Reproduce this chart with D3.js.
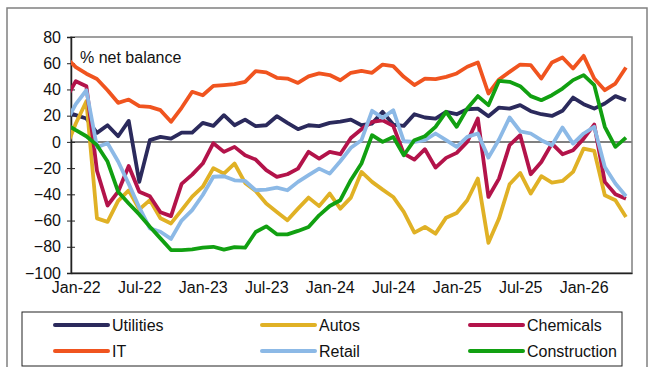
<!DOCTYPE html>
<html><head><meta charset="utf-8">
<script src="https://cdn.jsdelivr.net/npm/d3@7/dist/d3.min.js"></script>
<style>
body{margin:0;background:#fff;}
svg{display:block;font-family:"Liberation Sans",Arial,sans-serif;}
</style>
</head><body>
<svg id="chart" width="654" height="367"></svg>
<script>
// Monthly data, first value = Dec-21 (clipped at the left edge), last = May-26
const utilities = [23,20.4,17.8,6.9,12.7,4.3,16,-30.5,1.3,3.8,2.5,7.1,7.1,14.5,12.2,20.4,12.7,17,12,12.7,19.6,14.5,9.7,12.7,12,14.5,15.5,17,12.7,14,22.9,13.2,12.2,21.1,18.6,17.8,22.9,21.1,24.9,25.4,19.6,26.2,25.4,28,23.4,21.1,19.8,23.7,33.8,28.8,25.4,29.3,34.9,31.8];
const autos = [-6,14,31,-58.3,-61,-45,-37,-51.5,-44.4,-58.3,-62.2,-52,-41.8,-34.2,-20,-24.2,-16.5,-31.3,-37.4,-47,-53.4,-59.8,-50.9,-42.5,-49,-39.4,-50.9,-42.5,-22.9,-30.5,-36.4,-42,-53.4,-69.2,-64.9,-70,-57.8,-54.2,-44.5,-28,-77,-58.5,-32.3,-23.7,-39.4,-26.2,-31,-29.8,-22.9,-5.1,-6.9,-40.7,-44.5,-57.3];
const chemicals = [32,46.3,42.5,-22,-48.5,-38,-18.4,-38,-41.5,-53.7,-56.6,-32,-25,-16.5,-1,-7.6,-3.8,-10.2,-13.5,-21.6,-26.7,-24.7,-20.4,-7.6,-12.7,-7.6,-9.4,3,9.7,15.3,16.5,12.2,-8.9,-13.5,-5.6,-19.6,-12.2,-8.4,0,17.8,-42,-28,-2.5,5.1,-24.7,-15.3,-1.3,-9.4,-6.4,2.5,13.2,-30.5,-40,-43.3];
const it = [65,57,52,48,39.4,29.8,32.3,27.2,26.7,24.2,15.3,26,38.2,35.6,42.7,43.3,44,45.8,54,53,48.9,48.3,45,50,52.2,51,47,52.7,54.2,52.7,59,57.8,49.6,43.3,48.3,47.8,49.6,52.2,57.3,60.6,36.9,47.6,53.4,59,58.5,48.3,60.6,64.4,56,65.6,48.3,39.4,44.5,56.7];
const retail = [14,28.8,39.4,-4,-1,-15,-32,-50,-66,-68.5,-74,-60,-52,-40.5,-26.6,-26.2,-29.3,-29.8,-36.9,-36.4,-34.9,-36.9,-30.5,-25.4,-20.4,-24.2,-14.8,-4.5,1.3,23.7,18.3,24.2,0.5,0,1.3,6.4,1.3,-3.8,3.8,6.4,-12,1.8,18.6,8.1,6.4,1.3,-2.5,10.9,-1.3,6.4,11.5,-19.1,-31.8,-41.5];
const construction = [14,8.9,4.3,-2.5,-15,-38,-47,-55.3,-64.7,-73.6,-82.5,-82.5,-82,-80.7,-80,-82.2,-80.2,-80.7,-68.7,-64.4,-70.5,-70.5,-67.9,-64.9,-56,-48.9,-44.5,-29,-16.5,5.1,0,3.8,-10.2,1.3,4.3,11.5,22.9,11.5,25.4,34.9,28,46.6,45.8,42.5,34.9,31.8,35.6,40.7,47.1,50.9,43.3,11.5,-3.8,3.3];

const seriesNames = ["Utilities","Autos","Chemicals","IT","Retail","Construction"];
const seriesColors = ["#2b2a5c","#e0b125","#b3134a","#f0541f","#8cb9e6","#11a011"];
const seriesValues = [utilities,autos,chemicals,it,retail,construction];

const tickLabels = ["Jan-22","Jul-22","Jan-23","Jul-23","Jan-24","Jul-24","Jan-25","Jul-25","Jan-26"];
const tickIndex = [1,7,13,19,25,31,37,43,49];
const yTicks = [80,60,40,20,0,-20,-40,-60,-80,-100];

const svg = d3.select("#chart");
const L = 71, R = 632, T = 37, B = 273;
const FS = 16;

const x = d3.scaleLinear().domain([0.546, 53.57]).range([L, R]);
const y = d3.scaleLinear().domain([-100, 80]).range([B, T]);

// outer border
svg.append("rect").attr("x",7).attr("y",8).attr("width",640).attr("height",380)
  .attr("fill","none").attr("stroke","#808080").attr("stroke-width",1.5);

// plot frame
svg.append("rect").attr("x",L).attr("y",T).attr("width",R-L).attr("height",B-T)
  .attr("fill","none").attr("stroke","#808080").attr("stroke-width",1.5);

// zero line
svg.append("line").attr("x1",L).attr("x2",R).attr("y1",y(0)).attr("y2",y(0))
  .attr("stroke","#808080").attr("stroke-width",2);

// y axis
const yAxis = d3.axisLeft(y).tickValues(yTicks).tickSize(4).tickPadding(6).tickFormat(d3.format("d"));
const gy = svg.append("g").attr("transform",`translate(${L},0)`).call(yAxis);
gy.select(".domain").attr("stroke","#222").attr("stroke-width",1.5);
gy.selectAll(".tick line").attr("stroke","#222").attr("x2",-4).attr("x1",4);
gy.selectAll("text").attr("font-size",FS).attr("fill","#111").attr("font-family","Liberation Sans, Arial, sans-serif");

// x axis
const xAxis = d3.axisBottom(x).tickValues(tickIndex).tickSize(0).tickPadding(9)
  .tickFormat((d,i)=>tickLabels[i]);
const gx = svg.append("g").attr("transform",`translate(0,${B})`).call(xAxis);
gx.select(".domain").attr("stroke","#222").attr("stroke-width",1.5);
gx.selectAll("text").attr("font-size",FS).attr("fill","#111").attr("font-family","Liberation Sans, Arial, sans-serif");

// clip
svg.append("clipPath").attr("id","clip").append("rect")
  .attr("x",L).attr("y",T-5).attr("width",R-L).attr("height",B-T+10);

const line = d3.line().x((d,i)=>x(i)).y(d=>y(d));
const g = svg.append("g").attr("clip-path","url(#clip)");
seriesValues.forEach((vals,k)=>{
  g.append("path").datum(vals).attr("d",line).attr("fill","none")
    .attr("stroke",seriesColors[k]).attr("stroke-width",3.8)
    .attr("stroke-linejoin","round");
});

// unit label
svg.append("text").attr("x",80).attr("y",63).attr("font-size",FS).attr("fill","#111")
  .text("% net balance");

// legend
svg.append("rect").attr("x",22).attr("y",312).attr("width",600).attr("height",54)
  .attr("fill","#fff").attr("stroke","#222").attr("stroke-width",1);
const legX = [55, 262, 470];
const legY = [325, 351];
seriesNames.forEach((name,k)=>{
  const col = k%3, row = Math.floor(k/3);
  const lg = svg.append("g").attr("transform",`translate(${legX[col]},${legY[row]})`);
  lg.append("line").attr("x1",0).attr("x2",53).attr("y1",0).attr("y2",0)
    .attr("stroke",seriesColors[k]).attr("stroke-width",4).attr("stroke-linecap","round");
  lg.append("text").attr("x",57).attr("y",5.5).attr("font-size",FS).attr("fill","#111").text(name);
});
</script>
</body></html>
